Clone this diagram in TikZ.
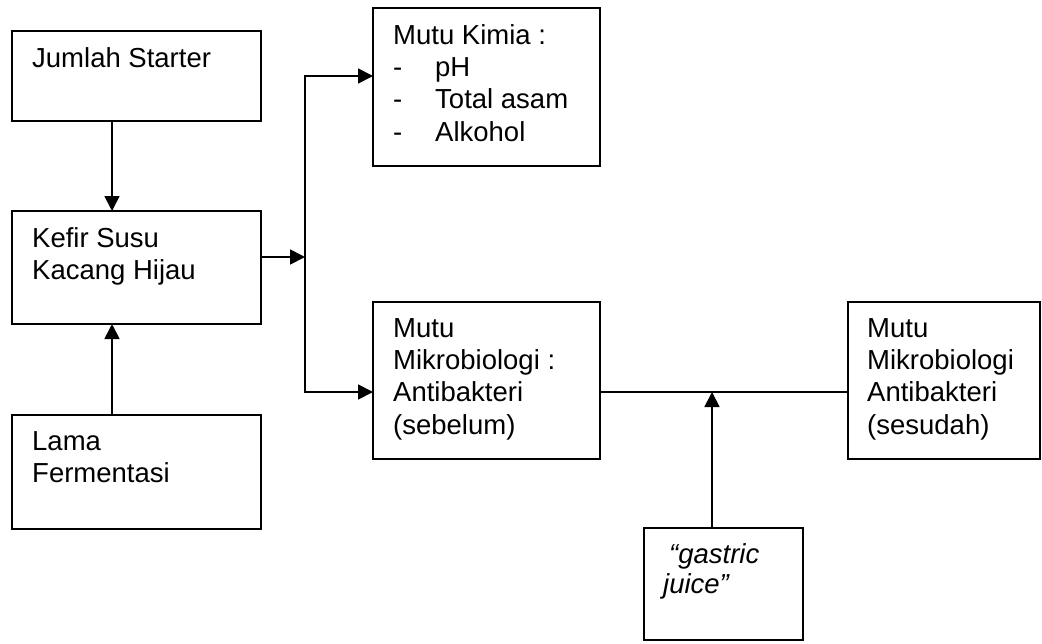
\documentclass[tikz,border=0pt]{standalone}
\usepackage{fontspec}
\setmainfont{Liberation Sans}
\usetikzlibrary{arrows.meta}
\tikzset{
  box/.style={draw, line width=1.8pt, inner sep=0pt, outer sep=0pt, anchor=north west},
  boxtext/.style={anchor=north west, align=left, inner sep=0pt, font=\fontsize{27.5}{32.3}\selectfont},
  conn/.style={line width=1.8pt},
  arr/.style={conn, -{Triangle[length=15pt,width=15pt]}}
}
\begin{document}
\begin{tikzpicture}[x=1pt,y=-1pt]
		%%%%% START %%%%%
		\useasboundingbox (0,0) rectangle (1042,643);
		
		\node[box, minimum width=249pt, minimum height=90pt] (starter) at (12,31) {};
		\node[boxtext] (startertext) at ([shift={(20,16)}]starter.north west) {Jumlah Starter};
		
		\node[box, minimum width=249pt, minimum height=113pt] (kefir) at (12,211) {};
		\node[boxtext] (kefirtext) at ([shift={(20,16)}]kefir.north west) {Kefir Susu\\Kacang Hijau};
		
		\node[box, minimum width=249pt, minimum height=114pt] (lama) at (12,415) {};
		\node[boxtext] (lamatext) at ([shift={(20,16)}]lama.north west) {Lama\\Fermentasi};
		
		\node[box, minimum width=227pt, minimum height=158pt] (kimia) at (373,8) {};
		\node[boxtext] (kimiatext) at ([shift={(20,16)}]kimia.north west)
			{Mutu Kimia :\\\makebox[42pt][l]{-}pH\\\makebox[42pt][l]{-}Total asam\\\makebox[42pt][l]{-}Alkohol};
		
		\node[box, minimum width=227pt, minimum height=157pt] (mikro) at (373,302) {};
		\node[boxtext] (mikrotext) at ([shift={(20,16)}]mikro.north west)
			{Mutu\\Mikrobiologi :\\Antibakteri\\(sebelum)};
		
		\node[box, minimum width=192pt, minimum height=157pt] (sesudah) at (848,302) {};
		\node[boxtext] (sesudahtext) at ([shift={(19,16)}]sesudah.north west)
			{Mutu\\Mikrobiologi\\Antibakteri\\(sesudah)};
		
		\node[box, minimum width=159pt, minimum height=112pt] (gastric) at (644,528) {};
		\node[boxtext, font=\fontsize{27.5}{30}\selectfont\itshape] (gastrictext) at ([shift={(19,15)}]gastric.north west)
			{\hspace{6pt}“gastric\\juice”};
		
		% connectors
		\coordinate (leftx) at (112,0);
		\coordinate (split) at (305,257);
		\coordinate (kimiain) at (0,76);
		\coordinate (mikroin) at (0,392);
		\coordinate (juicex) at (712,0);
		
		\draw[arr] (starter.south -| leftx) -- (kefir.north -| leftx);
		\draw[arr] (lama.north -| leftx) -- (kefir.south -| leftx);
		\draw[arr] (kefir.east |- split) -- (split);
		\draw[arr] (split) |- (kimia.west |- kimiain);
		\draw[arr] (split) |- (mikro.west |- mikroin);
		\draw[conn] (mikro.east |- mikroin) -- (sesudah.west |- mikroin);
		\draw[arr] (gastric.north -| juicex) -- (juicex |- mikroin);
		
		%%%%% END %%%%%
\end{tikzpicture}
\end{document}
